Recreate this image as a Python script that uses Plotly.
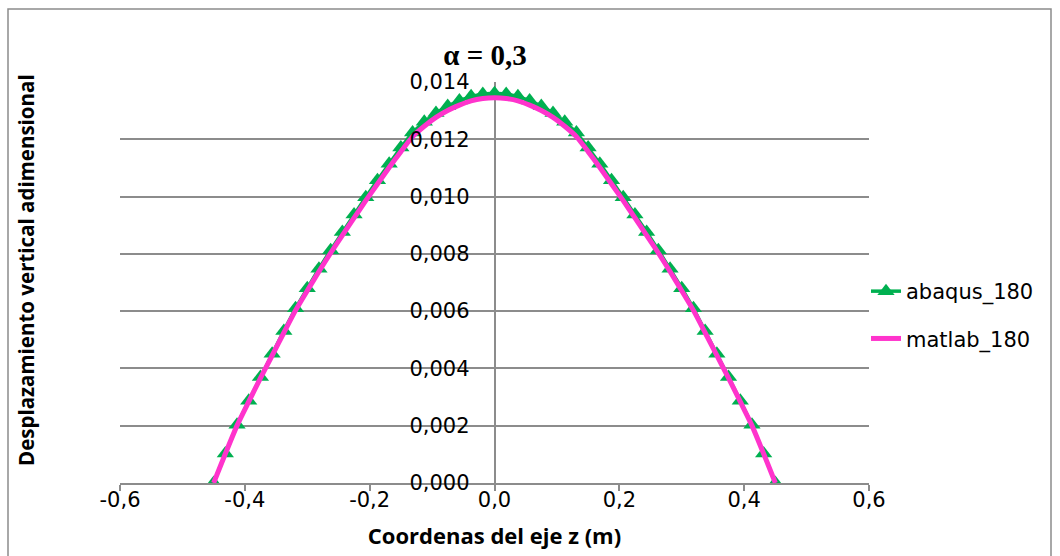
import plotly.graph_objects as go

# ---- data ----
z_coord = [-0.45, -0.43125, -0.4125, -0.39375, -0.375, -0.35625, -0.3375, -0.31875,
           -0.3, -0.28125, -0.2625, -0.24375, -0.225, -0.20625, -0.1875, -0.16875,
           -0.15, -0.13125, -0.1125, -0.09375, -0.075, -0.05625, -0.0375, -0.01875,
           0.0,
           0.01875, 0.0375, 0.05625, 0.075, 0.09375, 0.1125, 0.13125, 0.15,
           0.16875, 0.1875, 0.20625, 0.225, 0.24375, 0.2625, 0.28125, 0.3,
           0.31875, 0.3375, 0.35625, 0.375, 0.39375, 0.4125, 0.43125, 0.45]

abaqus_180 = [0.0, 0.00103, 0.00203, 0.00287, 0.00370, 0.00451, 0.00531, 0.00610,
              0.00680, 0.00748, 0.00813, 0.00876, 0.00937, 0.00998, 0.01057, 0.01115,
              0.01171, 0.01224, 0.01261, 0.01292, 0.01316, 0.01335, 0.01350, 0.01358,
              0.01361,
              0.01358, 0.01350, 0.01335, 0.01316, 0.01292, 0.01261, 0.01224, 0.01171,
              0.01115, 0.01057, 0.00998, 0.00937, 0.00876, 0.00813, 0.00748, 0.00680,
              0.00610, 0.00531, 0.00451, 0.00370, 0.00287, 0.00203, 0.00103, 0.0]

matlab_180 = [0.0, 0.001022, 0.002004, 0.002838, 0.003658, 0.004452, 0.005246, 0.006026,
              0.006712, 0.007384, 0.008030, 0.008648, 0.009254, 0.009859, 0.010437, 0.011016,
              0.011567, 0.012092, 0.012455, 0.012764, 0.013006, 0.013194, 0.013342, 0.013423,
              0.013450,
              0.013423, 0.013342, 0.013194, 0.013006, 0.012764, 0.012455, 0.012092, 0.011567,
              0.011016, 0.010437, 0.009859, 0.009254, 0.008648, 0.008030, 0.007384, 0.006712,
              0.006026, 0.005246, 0.004452, 0.003658, 0.002838, 0.002004, 0.001022, 0.0]

x_tick_vals = [-0.6, -0.4, -0.2, 0.0, 0.2, 0.4, 0.6]
x_tick_text = ["-0,6", "-0,4", "-0,2", "0,0", "0,2", "0,4", "0,6"]
y_tick_vals = [0.000, 0.002, 0.004, 0.006, 0.008, 0.010, 0.012, 0.014]
y_tick_text = ["0,000", "0,002", "0,004", "0,006", "0,008", "0,010", "0,012", "0,014"]

GREEN = "#00B050"
PINK = "#FF33CC"
GRID = "#8C8C8C"
TICKFONT = "DejaVu Sans"
TITLEFONT = "Open Sans"

W, H = 1060, 556
ML, MR, MT, MB = 120, 191, 82, 73
PW, PH = W - ML - MR, H - MT - MB

def px_x(px):
    return (px - ML) / PW

def px_y(py):
    return (H - MB - py) / PH

fig = go.Figure()
fig.add_trace(go.Scatter(
    x=z_coord, y=abaqus_180, name="abaqus_180", mode="lines+markers",
    line=dict(color=GREEN, width=3.5),
    marker=dict(symbol="triangle-up", size=15, color=GREEN),
    legendgroup="a",
))
fig.add_trace(go.Scatter(
    x=z_coord, y=matlab_180, name="matlab_180", mode="lines",
    line=dict(color=PINK, width=5, shape="spline", smoothing=0.6),
    legendgroup="m",
))

fig.update_layout(
    width=W, height=H,
    margin=dict(l=ML, r=MR, t=MT, b=MB),
    paper_bgcolor="white", plot_bgcolor="white",
    font=dict(family=TICKFONT, size=22, color="black"),
    title=dict(text="<b>α = 0,3</b>", x=485 / W, xanchor="center",
               y=1 - 55 / H, yanchor="middle",
               font=dict(family="Liberation Serif", size=29, color="black")),
    showlegend=True,
    legend=dict(x=px_x(866), xanchor="left", y=px_y(271), yanchor="top",
                bgcolor="rgba(0,0,0,0)", traceorder="grouped", tracegroupgap=17,
                font=dict(family=TICKFONT, size=21, color="black")),
    xaxis=dict(
        range=[-0.6, 0.6], tickvals=x_tick_vals, ticktext=x_tick_text,
        showgrid=False, zeroline=True, zerolinecolor=GRID, zerolinewidth=2,
        showline=True, linecolor=GRID, linewidth=2,
        ticks="outside", ticklen=6, tickcolor=GRID, tickwidth=2,
        ticklabelstandoff=-9,
        tickfont=dict(family=TICKFONT, size=21),
        title=dict(text="<b>Coordenas del eje z (m)</b>", standoff=17,
                   font=dict(family=TITLEFONT, size=22)),
    ),
    yaxis=dict(
        range=[0, 0.014], tickvals=y_tick_vals, ticktext=y_tick_text,
        anchor="free", position=0.5,
        showgrid=True, gridcolor=GRID, gridwidth=2,
        zeroline=False, showline=False,
        ticks="", ticklabelstandoff=25,
        tickfont=dict(family=TICKFONT, size=21),
    ),
    annotations=[dict(
        text="<b>Desplazamiento vertical adimensional</b>", textangle=-90,
        xref="paper", yref="paper", x=px_x(26), y=px_y(270),
        xanchor="center", yanchor="middle", showarrow=False,
        font=dict(family=TITLEFONT, size=20.5, color="black"),
    )],
    shapes=[dict(type="rect", xref="paper", yref="paper",
                 x0=px_x(8), x1=px_x(1051), y0=px_y(600), y1=px_y(9),
                 line=dict(color="#8C8C8C", width=1.5), fillcolor="rgba(0,0,0,0)",
                 layer="below")],
)

fig.write_html("out.html")
